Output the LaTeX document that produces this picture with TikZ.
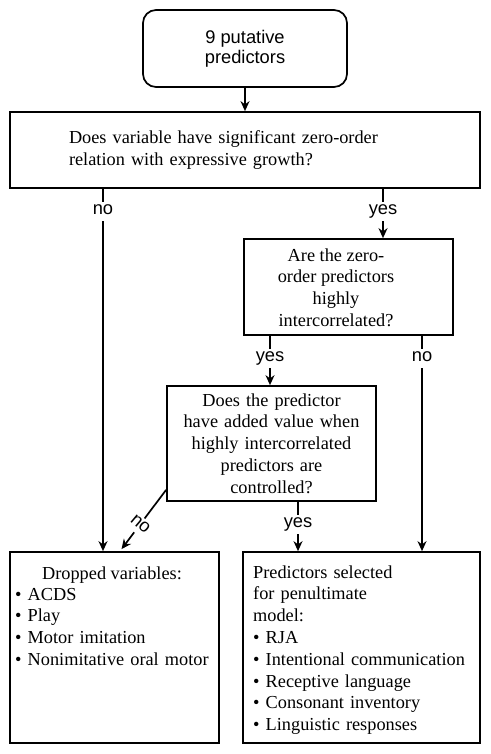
\documentclass[tikz,border=0pt]{standalone}
\usepackage{fontspec}
\setmainfont{Liberation Serif}
\setsansfont{Liberation Sans}
\usetikzlibrary{arrows.meta}
\tikzset{
  box/.style={draw, line width=1.7pt, inner sep=0pt},
  ser/.style={font=\fontsize{18.3}{21.8}\selectfont},
  san/.style={font=\sffamily\fontsize{18.3}{20}\selectfont},
  arr/.style={line width=1.7pt, -{Stealth[length=10pt,width=9pt]}},
  lab/.style={san, fill=white, inner xsep=2pt, inner ysep=3pt, text height=9.5pt, text depth=3.5pt}
}
\begin{document}
\begin{tikzpicture}[x=1pt, y=-1pt]
\useasboundingbox (0,0) rectangle (490,754);
% boxes
\node[box, san, rounded corners=13pt, minimum width=204pt, minimum height=77pt, align=center] (top) at (245,48.5) {9 putative\\predictors};
\node[box, ser, minimum height=76pt, text width=352pt, inner xsep=59pt, align=left] (q1) at (245,150) {Does variable have significant zero-order\\relation with expressive growth?};
\node[box, minimum width=209pt, minimum height=96pt] (q2) at (348.5,287) {};
\node[ser, align=center] (q2t) at (336,287.5) {Are the zero-\\order predictors\\highly\\intercorrelated?};
\node[box, ser, minimum width=209pt, minimum height=115pt, text width=200pt, align=center] (q3) at (271.5,443.5) {Does the predictor\\have added value when\\highly intercorrelated\\predictors are\\controlled?};
\node[box, minimum width=209pt, minimum height=191pt] (drop) at (114.5,647.5) {};
\node[box, minimum width=237pt, minimum height=191pt] (sel) at (361.5,647.5) {};
% box texts
\node[ser, anchor=base] (dt) at (112,579) {Dropped variables:};
\node[ser, anchor=base west, text width=200pt, align=left, inner sep=0pt] (dl) at (15,600) {\textbullet{} ACDS\\\textbullet{} Play\\\textbullet{} Motor imitation\\\textbullet{} Nonimitative oral motor};
\node[ser, anchor=base west, text width=230pt, align=left, inner sep=0pt] (sl) at (253,578) {Predictors selected\\for penultimate\\model:\\\textbullet{} RJA\\\textbullet{} Intentional communication\\\textbullet{} Receptive language\\\textbullet{} Consonant inventory\\\textbullet{} Linguistic responses};
% connectors
\coordinate (xa) at (103,0);
\coordinate (xb) at (383,0);
\coordinate (xc) at (270,0);
\coordinate (xd) at (422,0);
\coordinate (xe) at (298,0);
\draw[arr] (top) -- (q1);
\draw[arr] (q1.south -| xa) -- node[lab, pos=0.063] {no} (drop.north -| xa);
\draw[arr] (q1.south -| xb) -- node[lab, pos=0.45] {yes} (q2.north -| xb);
\draw[arr] (q2.south -| xc) -- node[lab, pos=0.45] {yes} (q3.north -| xc);
\draw[arr] (q2.south -| xd) -- node[lab, pos=0.106] {no} (sel.north -| xd);
\draw[arr] (q3.south -| xe) -- node[lab, pos=0.45] {yes} (sel.north -| xe);
\draw[arr] ([yshift=12pt]q3.south west) -- node[lab, rotate=-40, pos=0.6, inner xsep=3pt, inner ysep=2pt] {no} ([xshift=7pt,yshift=2pt]drop.north);
\end{tikzpicture}
\end{document}
